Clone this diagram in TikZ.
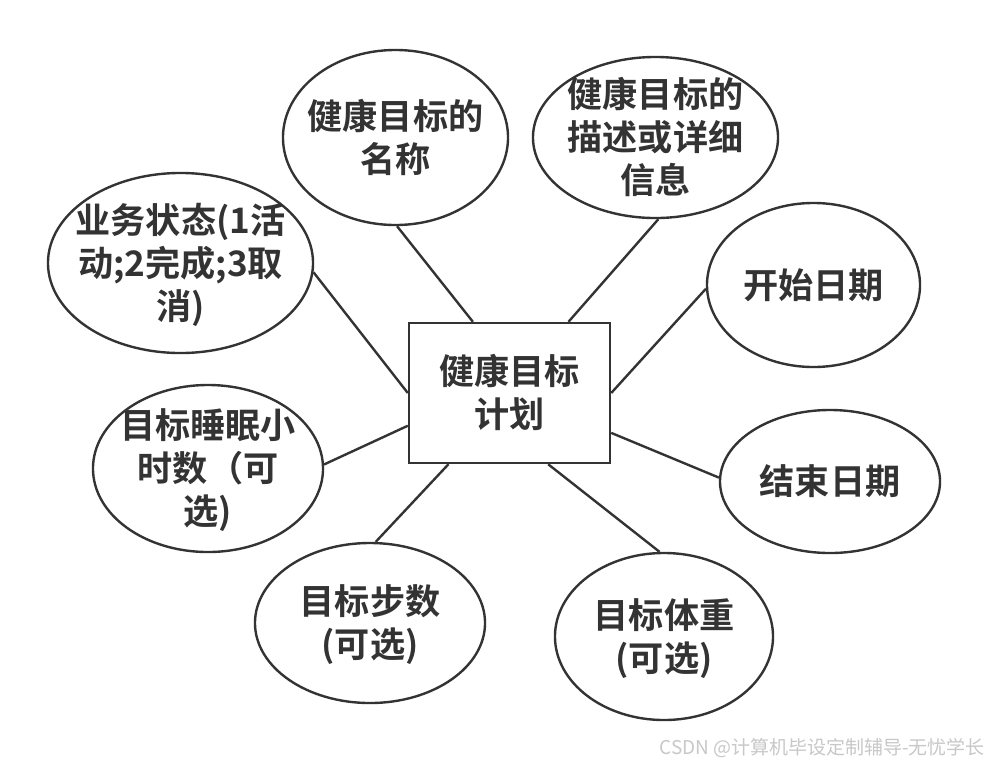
\documentclass[tikz,border=0pt]{standalone}
\usepackage{fontspec}
\newfontfamily\cjk{Noto Sans CJK SC}[BoldFont={Noto Sans CJK SC Bold}]
\usetikzlibrary{calc,shapes.geometric}
\definecolor{ink}{HTML}{333333}
\definecolor{markgray}{HTML}{C8C8C8}
% text of a node, kept out of the shape's size
\newcommand\etxt[1]{\smash{\makebox[0pt]{\raisebox{-.38em}{$\vcenter{\hbox{\begin{tabular}{@{}c@{}}#1\end{tabular}}}$}}}}

\begin{document}
\begin{tikzpicture}[
    x=0.025cm, y=-0.025cm,
    font=\cjk\bfseries\fontsize{25}{30.5}\selectfont, text=ink,
    attr/.style={draw=ink, line width=1.7pt, ellipse, inner sep=0pt},
    ent/.style={draw=ink, line width=1.7pt, rectangle, inner sep=0pt,
                minimum width=5.025cm, minimum height=3.5cm},
    rel/.style={-, draw=ink, line width=1.7pt},
]
\path[use as bounding box, fill=white] (0,0) rectangle (990,770);

% Entity
\node[ent] (plan) at (509.5,393) {\etxt{健康目标\\计划}};

% Attributes
\node[attr, minimum width=5.625cm, minimum height=4.375cm] (name)   at (395.5,137.5) {\etxt{健康目标的\\名称}};
\node[attr, minimum width=6.125cm, minimum height=4.025cm] (desc)   at (655.5,137.5) {\etxt{健康目标的\\描述或详细\\信息}};
\node[attr, minimum width=5.325cm, minimum height=4.1cm]   (start)  at (813.5,285)   {\etxt{开始日期}};
\node[attr, minimum width=5.5cm,   minimum height=3.575cm] (finish) at (830,481.5)   {\etxt{结束日期}};
\node[attr, minimum width=5.45cm,  minimum height=4.175cm] (weight) at (664,636.5)   {\etxt{目标体重\\(可选)}};
\node[attr, minimum width=5.75cm,  minimum height=4cm]     (steps)  at (370,623)     {\etxt{目标步数\\(可选)}};
\node[attr, minimum width=5.75cm,  minimum height=4.175cm] (sleep)  at (208,468.5)   {\etxt{目标睡眠小\\时数（可\\选)}};
\node[attr, minimum width=6.625cm, minimum height=4.5cm]   (status) at (180.5,263)   {\etxt{业务状态(1活\\动;2完成;3取\\消)}};

% Links
\draw[rel] (name.-89)   -- ($(plan.north west)!.32!(plan.north east)$);
\draw[rel] (desc.-88)   -- ($(plan.north west)!.79!(plan.north east)$);
\draw[rel] (start.-178) -- (plan.east);
\draw[rel] (finish.178) -- ($(plan.north east)!.78!(plan.south east)$);
\draw[rel] (weight.93)  -- ($(plan.south west)!.69!(plan.south east)$);
\draw[rel] (steps.86)   -- ($(plan.south west)!.2!(plan.south east)$);
\draw[rel] (sleep.2)    -- ($(plan.north west)!.73!(plan.south west)$);
\draw[rel] (status.-4)  -- (plan.west);

\node[font=\cjk\fontsize{13.5}{16}\selectfont, text=markgray, anchor=east, inner sep=0pt]
    (mark) at (985,748) {CSDN @计算机毕设定制辅导-无忧学长};
\end{tikzpicture}
\end{document}
